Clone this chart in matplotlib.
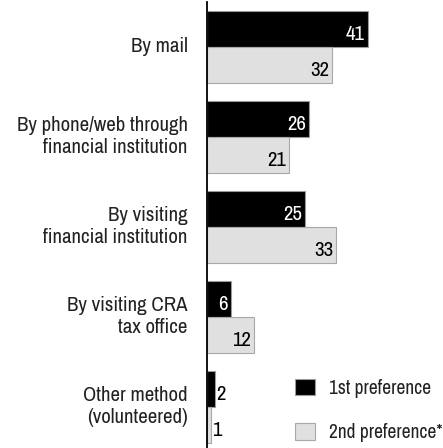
import matplotlib
matplotlib.use("Agg")
import matplotlib.pyplot as plt
from matplotlib.patches import Patch
import numpy as np

plt.rcParams['font.family'] = ['Archivo Narrow', 'DejaVu Sans']

categories = [
    "By mail",
    "By phone/web through\nfinancial institution",
    "By visiting\nfinancial institution",
    "By visiting CRA\ntax office",
    "Other method\n(volunteered)",
]
first_pref = [41, 26, 25, 6, 2]
second_pref = [32, 21, 33, 12, 1]
series_names = ["1st preference", "2nd preference*"]

W, H = 443, 448
fig = plt.figure(figsize=(W / 100, H / 100), dpi=100)
ax = fig.add_axes([207 / W, 0, (W - 207) / W, (H - 2) / H])

y = np.arange(len(categories))
bh = 0.4
fs = 15

b1 = ax.barh(y, first_pref, height=bh, align='edge', color='black',
             edgecolor='#9a9a9a', linewidth=0.8)
b2 = ax.barh(y + bh, second_pref, height=bh, align='edge', color='#e0e0e0',
             edgecolor='#a8a8a8', linewidth=0.8)

ax.set_xlim(0, (W - 207) / 3.92)
ax.set_ylim(4.856, -0.1)

for spine in ['top', 'right', 'bottom']:
    ax.spines[spine].set_visible(False)
ax.spines['left'].set_linewidth(1.3)
ax.set_xticks([])
ax.set_yticks([])

# category labels, centred on each group
for i, lab in enumerate(categories):
    ax.annotate(lab, xy=(0, i + bh), xycoords=('axes fraction', 'data'),
                xytext=(-14, 0), textcoords='offset points',
                ha='right', va='center', ma='right', fontsize=fs,
                linespacing=1.2, color='#222222')

# value labels at bar ends
def label_bars(bars, vals, inside_color):
    for rect, v in zip(bars, vals):
        yc = rect.get_y() + rect.get_height() / 2
        if v >= 5:
            ax.annotate(str(v), xy=(v, yc), xytext=(-2, -4),
                        textcoords='offset points', ha='right',
                        va='center', fontsize=fs, color=inside_color)
        else:
            ax.annotate(str(v), xy=(v, yc), xytext=(1, -4),
                        textcoords='offset points', ha='left',
                        va='center', fontsize=fs, color='black')

label_bars(b1, first_pref, 'white')
label_bars(b2, second_pref, 'black')

lfs = 14
handles = [Patch(facecolor='black', edgecolor='#9a9a9a', linewidth=0.8),
           Patch(facecolor='#e0e0e0', edgecolor='#a8a8a8', linewidth=0.8)]
fig.legend(handles, series_names, loc='upper left',
           bbox_to_anchor=(285 / W, 1 - 369 / H), frameon=False,
           fontsize=lfs, handlelength=1.03, handleheight=0.93,
           handletextpad=0.72, labelspacing=1.32, borderpad=0,
           labelcolor='#222222')

fig.savefig("out.png", dpi=100)
